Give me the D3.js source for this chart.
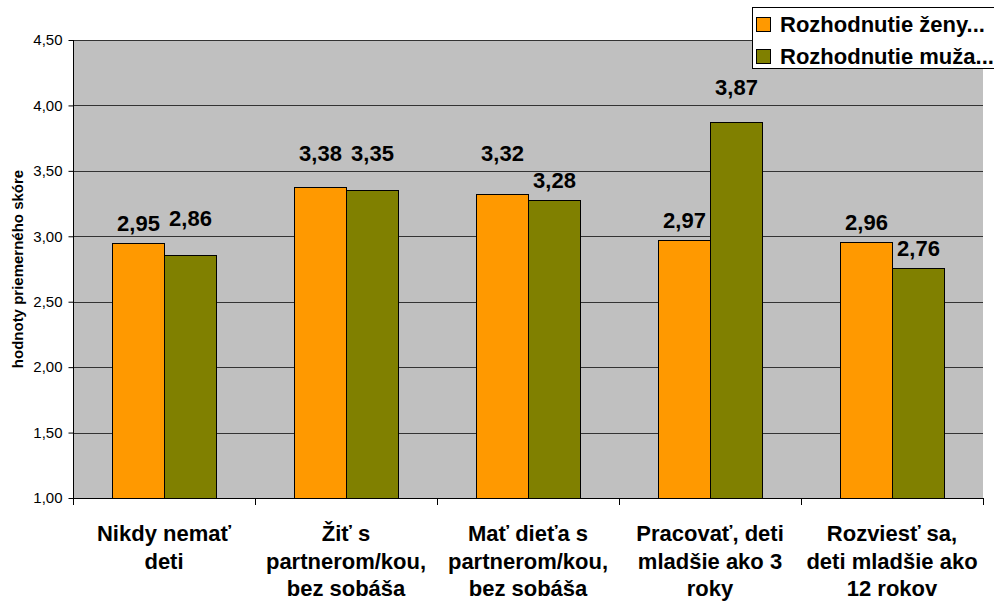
<!DOCTYPE html>
<html>
<head>
<meta charset="utf-8">
<script src="https://cdn.jsdelivr.net/npm/d3@7"></script>
<style>
  html, body { margin: 0; padding: 0; background: #fff; }
  svg { display: block; font-family: "Liberation Sans", Arial, Helvetica, sans-serif; }
</style>
</head>
<body>
<svg id="chart" width="994" height="603"></svg>
<script>
// ---- data ----
const categories = [
  ["Nikdy nemať", "deti"],
  ["Žiť s", "partnerom/kou,", "bez sobáša"],
  ["Mať dieťa s", "partnerom/kou,", "bez sobáša"],
  ["Pracovať, deti", "mladšie ako 3", "roky"],
  ["Rozviesť sa,", "deti mladšie ako", "12 rokov"]
];
const seriesNames = ["Rozhodnutie ženy...", "Rozhodnutie muža..."];
const womenValues = [2.95, 3.38, 3.32, 2.97, 2.96];
const menValues   = [2.86, 3.35, 3.28, 3.87, 2.76];
const yTicks = [1.00, 1.50, 2.00, 2.50, 3.00, 3.50, 4.00, 4.50];
const yTitle = "hodnoty priemerného skóre";

// ---- layout ----
const svg = d3.select("#chart");
const plot = { left: 73, right: 983, top: 40, bottom: 498 };
const colors = ["#FF9900", "#808000"];
const fmt = v => d3.format(".2f")(v).replace(".", ",");

const x0 = d3.scaleBand().domain(d3.range(categories.length))
  .range([plot.left, plot.right]).paddingInner(0).paddingOuter(0);
const barW = 52;
const x1 = d3.scaleBand().domain([0, 1]).range([0, barW * 2]);
const y = d3.scaleLinear().domain([1, 4.5]).range([plot.bottom, plot.top]);

// plot background
svg.append("rect")
  .attr("x", plot.left).attr("y", plot.top)
  .attr("width", plot.right - plot.left).attr("height", plot.bottom - plot.top)
  .attr("fill", "#C0C0C0");

// gridlines
svg.append("g").selectAll("line").data(yTicks.filter(t => t > 1)).join("line")
  .attr("x1", plot.left).attr("x2", plot.right)
  .attr("y1", d => Math.round(y(d)) + 0.5).attr("y2", d => Math.round(y(d)) + 0.5)
  .attr("stroke", "#333").attr("stroke-width", 1);

// bars
const data = categories.map((c, i) => ({ i, vals: [womenValues[i], menValues[i]] }));
const groups = svg.append("g").selectAll("g").data(data).join("g")
  .attr("transform", d => `translate(${x0(d.i) + (x0.bandwidth() - barW * 2) / 2},0)`);

groups.selectAll("rect").data(d => d.vals.map((v, s) => ({ v, s }))).join("rect")
  .attr("x", d => x1(d.s) + 0.5)
  .attr("y", d => Math.round(y(d.v)) + 0.5)
  .attr("width", barW)
  .attr("height", d => Math.round(plot.bottom) - Math.round(y(d.v)))
  .attr("fill", d => colors[d.s])
  .attr("stroke", "#000").attr("stroke-width", 1);

// value labels (moved above a gridline when they would cross it)
const gridYs = yTicks.map(t => y(t));
groups.selectAll("text").data(d => d.vals.map((v, s) => ({ v, s }))).join("text")
  .attr("x", d => x1(d.s) + barW / 2 + 0.5)
  .attr("y", d => {
    let base = y(d.v) - 12;
    const top = base - 16;
    const hit = gridYs.find(g => g > top && g < base + 1);
    if (hit !== undefined) base = hit - 10;
    return base;
  })
  .attr("text-anchor", "middle")
  .attr("font-size", 22).attr("font-weight", "bold").attr("fill", "#000")
  .text(d => fmt(d.v));

// y axis
const yAxis = d3.axisLeft(y).tickValues(yTicks).tickSize(5).tickPadding(6).tickFormat(fmt);
const gy = svg.append("g").attr("transform", `translate(${plot.left + 0.5},0)`).call(yAxis);
gy.select(".domain").attr("stroke", "#000").attr("d", `M0,${plot.top}V${plot.bottom}`);
gy.selectAll(".tick line").attr("stroke", "#000");
gy.selectAll(".tick text").attr("font-size", 15).attr("fill", "#000")
  .attr("font-family", "'Liberation Sans', Arial, sans-serif");

// x axis (ticks at category boundaries)
const boundaries = d3.range(categories.length + 1).map(i => plot.left + i * x0.bandwidth());
svg.append("line").attr("x1", plot.left).attr("x2", plot.right)
  .attr("y1", plot.bottom + 0.5).attr("y2", plot.bottom + 0.5).attr("stroke", "#000");
svg.append("g").selectAll("line").data(boundaries).join("line")
  .attr("x1", d => Math.round(d) + 0.5).attr("x2", d => Math.round(d) + 0.5)
  .attr("y1", plot.bottom).attr("y2", plot.bottom + 7).attr("stroke", "#000");

// category labels
const catG = svg.append("g").selectAll("text").data(categories).join("text")
  .attr("text-anchor", "middle")
  .attr("font-size", 22).attr("font-weight", "bold").attr("fill", "#000")
  .attr("transform", (d, i) => `translate(${x0(i) + x0.bandwidth() / 2},0)`);
catG.selectAll("tspan").data(d => d).join("tspan")
  .attr("x", 0).attr("y", (d, j) => 541 + j * 27.5).text(d => d);

// y title
svg.append("text")
  .attr("transform", `translate(23,${(plot.top + plot.bottom) / 2}) rotate(-90)`)
  .attr("text-anchor", "middle")
  .attr("font-size", 15).attr("font-weight", "bold").attr("fill", "#000")
  .text(yTitle);

// legend
const lg = svg.append("g");
lg.append("rect").attr("x", 752.5).attr("y", 7.5).attr("width", 260).attr("height", 61)
  .attr("fill", "#fff").attr("stroke", "#000").attr("stroke-width", 1);
seriesNames.forEach((name, i) => {
  const cy = 25 + i * 32;
  lg.append("rect").attr("x", 756.5).attr("y", cy - 7.5).attr("width", 14).attr("height", 14)
    .attr("fill", colors[i]).attr("stroke", "#000");
  lg.append("text").attr("x", 780).attr("y", cy + 7)
    .attr("font-size", 22).attr("font-weight", "bold").attr("fill", "#000").text(name);
});
</script>
</body>
</html>
